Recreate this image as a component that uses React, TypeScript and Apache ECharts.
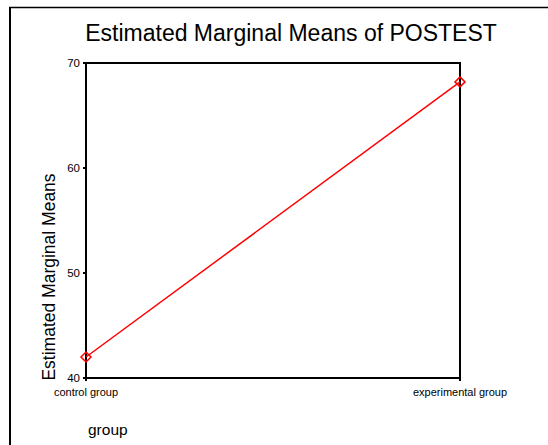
import React, { useEffect, useRef } from "react";
import * as echarts from "echarts";

const categories = ["control group", "experimental group"];
const meanValues = [42.0, 68.2];
const yTicks = { min: 40, max: 70, interval: 10 };
const titleText = "Estimated Marginal Means of POSTEST";
const yAxisTitle = "Estimated Marginal Means";
const xAxisTitle = "group";

const FONT = "'Liberation Sans', Arial, sans-serif";

export default function App() {
  const ref = useRef<HTMLDivElement>(null);
  useEffect(() => {
    if (!ref.current) return;
    const chart = echarts.init(ref.current, null, { renderer: "svg" });
    chart.setOption({
      animation: false,
      backgroundColor: "#fff",
      textStyle: { fontFamily: FONT },
      grid: {
        left: 86,
        right: 88,
        top: 63,
        bottom: 67,
        show: true,
        borderColor: "#000",
        borderWidth: 2,
        backgroundColor: "transparent",
      },
      graphic: [
        {
          type: "line",
          shape: { x1: 10, y1: 7, x2: 10, y2: 460 },
          style: { stroke: "#000", lineWidth: 2 },
        },
        {
          type: "line",
          shape: { x1: 9, y1: 7.5, x2: 560, y2: 7.5 },
          style: { stroke: "#000", lineWidth: 1.5 },
        },
        {
          type: "text",
          x: 291,
          y: 44,
          style: {
            text: titleText,
            fontSize: 23,
            fontFamily: FONT,
            fill: "#000",
            textAlign: "center",
            textVerticalAlign: "bottom",
          },
        },
        {
          type: "text",
          x: 49,
          y: 277,
          rotation: Math.PI / 2,
          style: {
            text: yAxisTitle,
            fontSize: 17.5,
            fontFamily: FONT,
            fill: "#000",
            textAlign: "center",
            textVerticalAlign: "middle",
          },
        },
        {
          type: "text",
          x: 88,
          y: 421,
          style: {
            text: xAxisTitle,
            fontSize: 15.5,
            fontFamily: FONT,
            fill: "#000",
            textAlign: "left",
            textVerticalAlign: "top",
          },
        },
      ],
      xAxis: {
        type: "category",
        data: categories,
        boundaryGap: false,
        axisLine: { show: true, lineStyle: { color: "#000", width: 2 } },
        axisTick: { show: true, length: 3, lineStyle: { color: "#000", width: 2 } },
        axisLabel: { color: "#000", fontSize: 11, margin: 8, fontFamily: FONT },
        splitLine: { show: false },
      },
      yAxis: {
        type: "value",
        min: yTicks.min,
        max: yTicks.max,
        interval: yTicks.interval,
        axisLine: { show: true, lineStyle: { color: "#000", width: 2 } },
        axisTick: { show: true, length: 3, lineStyle: { color: "#000", width: 2 } },
        axisLabel: { color: "#000", fontSize: 11.5, margin: 6, fontFamily: FONT },
        splitLine: { show: false },
      },
      series: [
        {
          type: "line",
          data: meanValues,
          symbol: "diamond",
          symbolSize: 10,
          lineStyle: { color: "#ff0000", width: 1.5 },
          itemStyle: { color: "rgba(0,0,0,0)", borderColor: "#ff0000", borderWidth: 1.5 },
        },
      ],
    });
    return () => chart.dispose();
  }, []);
  return <div ref={ref} style={{ width: 548, height: 445, position: "absolute", left: 0, top: 0 }} />;
}
